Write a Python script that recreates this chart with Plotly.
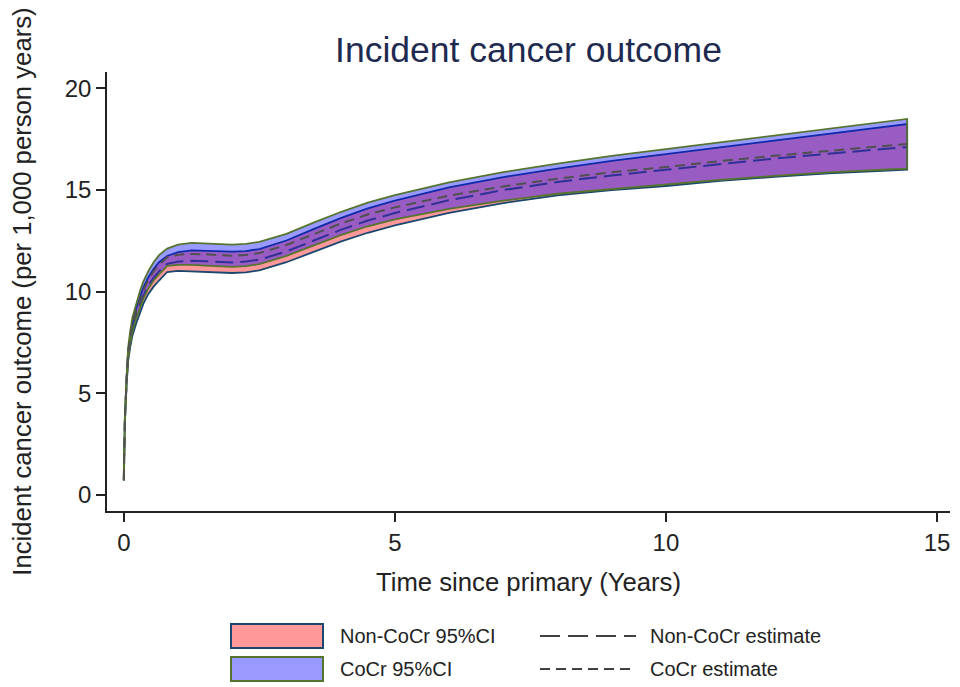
import plotly.graph_objects as go

# ---- data ----
years = [0, 0.02, 0.05, 0.08, 0.12, 0.16, 0.23, 0.3, 0.36, 0.45, 0.55, 0.65, 0.8,
         1.0, 1.25, 1.5, 1.75, 2.0, 2.25, 2.5, 3.0, 3.5, 4.0, 4.5, 5.0,
         6.0, 7.0, 8.0, 9.0, 10.0, 11.0, 12.0, 13.0, 14.0, 14.45]

cocr_upper = [0.80, 3.85, 5.75, 7.25, 8.10, 8.75, 9.45, 10.05, 10.50, 11.00, 11.45, 11.80, 12.12,
              12.32, 12.40, 12.40, 12.35, 12.32, 12.35, 12.45, 12.85, 13.40, 13.92, 14.38, 14.75,
              15.38, 15.88, 16.30, 16.68, 17.02, 17.36, 17.68, 18.00, 18.35, 18.50]
cocr_lower = [0.72, 3.65, 5.45, 6.75, 7.50, 8.05, 8.70, 9.25, 9.65, 10.15, 10.55, 10.85, 11.27,
              11.32, 11.32, 11.28, 11.24, 11.22, 11.26, 11.36, 11.76, 12.28, 12.78, 13.22, 13.56,
              14.08, 14.48, 14.82, 15.05, 15.25, 15.50, 15.70, 15.87, 16.00, 16.05]
noncocr_upper = [0.78, 3.80, 5.65, 7.10, 7.90, 8.50, 9.20, 9.75, 10.20, 10.70, 11.12, 11.45, 11.76,
                 11.95, 12.03, 12.03, 11.99, 11.97, 12.00, 12.10, 12.52, 13.08, 13.62, 14.10, 14.48,
                 15.13, 15.64, 16.06, 16.44, 16.79, 17.12, 17.44, 17.76, 18.10, 18.25]
noncocr_lower = [0.70, 3.60, 5.35, 6.60, 7.30, 7.85, 8.45, 9.00, 9.40, 9.88, 10.25, 10.55, 10.97,
                 11.02, 11.00, 10.97, 10.93, 10.92, 10.95, 11.05, 11.45, 11.96, 12.46, 12.90, 13.26,
                 13.88, 14.36, 14.74, 15.00, 15.20, 15.45, 15.65, 15.82, 15.95, 16.00]
cocr_est = [0.76, 3.75, 5.60, 7.00, 7.80, 8.40, 9.07, 9.65, 10.07, 10.57, 11.00, 11.32, 11.70,
            11.82, 11.86, 11.84, 11.80, 11.77, 11.80, 11.90, 12.30, 12.84, 13.35, 13.80, 14.15,
            14.73, 15.18, 15.56, 15.88, 16.13, 16.43, 16.69, 16.94, 17.17, 17.27]
noncocr_est = [0.74, 3.70, 5.50, 6.85, 7.60, 8.18, 8.82, 9.38, 9.80, 10.29, 10.68, 11.00, 11.37,
               11.48, 11.52, 11.50, 11.46, 11.44, 11.48, 11.58, 11.98, 12.52, 13.04, 13.50, 13.87,
               14.50, 15.00, 15.40, 15.72, 16.00, 16.28, 16.55, 16.79, 17.02, 17.12]

x_ticks = [0, 5, 10, 15]
y_ticks = [0, 5, 10, 15, 20]

labels = ["Non-CoCr 95%CI", "Non-CoCr estimate", "CoCr 95%CI", "CoCr estimate"]

# ---- styles ----
FONT = "Liberation Sans, Arial, sans-serif"
NAVY = "#1A476F"
FGREEN = "#55752F"
RED_FILL = "rgba(255,0,0,0.4)"
BLUE_FILL = "rgba(0,0,255,0.4)"
EST = "#505050"

def band(xs, lo, hi):
    return xs + xs[::-1], lo + hi[::-1]

fig = go.Figure()

bx, by = band(years, noncocr_lower, noncocr_upper)
fig.add_trace(go.Scatter(x=bx, y=by, mode="lines", fill="toself", fillcolor=RED_FILL,
                         line=dict(color=NAVY, width=1.8), name=labels[0], showlegend=False,
                         hoverinfo="skip"))
fig.add_trace(go.Scatter(x=years, y=noncocr_est, mode="lines",
                         line=dict(color=EST, width=2, dash="18px,7px"),
                         name=labels[1], showlegend=False))
bx, by = band(years, cocr_lower, cocr_upper)
fig.add_trace(go.Scatter(x=bx, y=by, mode="lines", fill="toself", fillcolor=BLUE_FILL,
                         line=dict(color=FGREEN, width=1.8), name=labels[2], showlegend=False,
                         hoverinfo="skip"))
fig.add_trace(go.Scatter(x=years, y=cocr_est, mode="lines",
                         line=dict(color=EST, width=2, dash="10px,6px"),
                         name=labels[3], showlegend=False))

# ---- geometry (page body has an 8px margin, so the figure is 8px smaller) ----
OFF = 8
W, H = 960 - OFF, 687 - OFF
L, R, T, B = 107 - OFF, 10, 72 - OFF, 176
pw, ph = W - L - R, H - T - B

def px(xp):
    return (xp - OFF - L) / pw

def py(yp):
    return (H - B - (yp - OFF)) / ph

shapes = []
annotations = []
rows = [636, 669]
for yc, fillc, linec in [(rows[0], "#FF9999", NAVY), (rows[1], "#9999FF", FGREEN)]:
    shapes.append(dict(type="rect", xref="paper", yref="paper",
                       x0=px(231), x1=px(323), y0=py(yc - 12), y1=py(yc + 12),
                       fillcolor=fillc, line=dict(color=linec, width=2)))
for yc, dash in [(rows[0], "20px,8px"), (rows[1], "10px,6px")]:
    shapes.append(dict(type="line", xref="paper", yref="paper",
                       x0=px(540), x1=px(636), y0=py(yc), y1=py(yc),
                       line=dict(color="#404040", width=2, dash=dash)))
for (xx, yc, txt) in [(338, rows[0], labels[0]), (648, rows[0], labels[1]),
                      (338, rows[1], labels[2]), (648, rows[1], labels[3])]:
    annotations.append(dict(text=txt, xref="paper", yref="paper", x=px(xx), y=py(yc),
                            xanchor="left", yanchor="middle", showarrow=False,
                            font=dict(family=FONT, size=20, color="#222222")))

fig.update_layout(
    width=W, height=H,
    margin=dict(l=L, r=R, t=T, b=B),
    paper_bgcolor="white", plot_bgcolor="white",
    font=dict(family=FONT, color="#222222"),
    title=dict(text="Incident cancer outcome", x=0.5, xref="paper", y=1 - (50 - OFF) / H,
               yref="container", yanchor="middle", xanchor="center",
               font=dict(family=FONT, size=35.5, color="#1E2A4F")),
    xaxis=dict(range=[-0.31, 15.24], tickvals=x_ticks, showgrid=False, zeroline=False,
               showline=True, linecolor="#222222", linewidth=1.5, automargin=False,
               ticks="outside", ticklen=9, tickwidth=1.5, tickcolor="#222222",
               tickfont=dict(size=24), title=dict(text="Time since primary (Years)",
                                                   font=dict(size=25.7), standoff=18)),
    yaxis=dict(range=[-0.79, 20.81], tickvals=y_ticks, showgrid=False, zeroline=False,
               showline=True, linecolor="#222222", linewidth=1.5, automargin=False,
               ticks="outside", ticklen=9, tickwidth=1.5, tickcolor="#222222",
               tickfont=dict(size=24),
               title=dict(text="Incident cancer outcome (per 1,000 person years)",
                          font=dict(size=25.7), standoff=26)),
    shapes=shapes, annotations=annotations, showlegend=False,
)

fig.write_html("out.html")
